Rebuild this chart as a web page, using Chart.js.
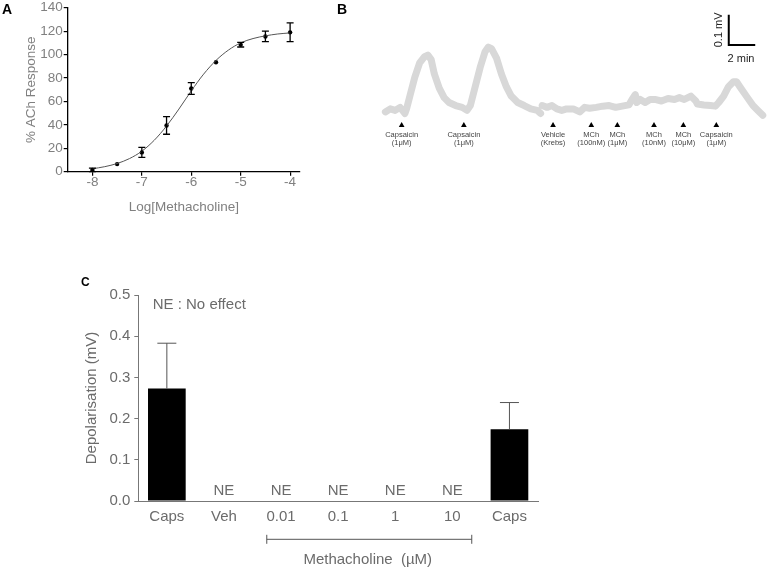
<!DOCTYPE html>
<html><head><meta charset="utf-8">
<script src="https://cdn.jsdelivr.net/npm/chart.js@4/dist/chart.umd.min.js"></script>
<style>
html,body{margin:0;padding:0;background:#fff;}
#wrap{position:relative;width:771px;height:569px;overflow:hidden;background:#fff;}
canvas{position:absolute;}
.lbl{position:absolute;font-weight:bold;color:#000;font-family:"Liberation Sans",Arial,sans-serif;line-height:1;}
</style></head>
<body><div id="wrap">
<canvas id="cA" width="310" height="225" style="left:0px;top:0px"></canvas>
<canvas id="cB" width="401" height="160" style="left:370px;top:0px"></canvas>
<canvas id="cC" width="490" height="299" style="left:60px;top:270px"></canvas>
<div class="lbl" style="left:2px;top:1.5px;font-size:14px">A</div>
<div class="lbl" style="left:337px;top:1.5px;font-size:14px">B</div>
<div class="lbl" style="left:81px;top:275.5px;font-size:12px">C</div>
</div>
<script>
// ---------- Panel A : concentration-response ----------
const doseLog = [-8, -7.5, -7, -6.5, -6, -5.5, -5, -4.5, -4];
const respMean = [1.5, 6.5, 16.5, 39.5, 71, 93.5, 108.5, 115.5, 119];
const respErr = [1.5, 0, 4.2, 7.5, 5, 0, 2, 4.5, 8];
const fitLog = [-8, -7.75, -7.5, -7.25, -7, -6.75, -6.5, -6.25, -6, -5.75, -5.5, -5.25, -5, -4.75, -4.5, -4.25, -4];
const fitResp = [2.5, 4.3, 7, 11.2, 17.5, 26.8, 39, 53.5, 69, 83.3, 95, 103.8, 110, 113.7, 116, 117.6, 118.5];
const xTicksA = [-8, -7, -6, -5, -4];

// ---------- Panel B : trace ----------
const traceMin = [0, 0.37, 0.74, 1.11, 1.48, 1.60, 1.85, 2.22, 2.59, 2.96, 3.21, 3.46, 3.70, 4.07, 4.44, 4.81, 5.31, 5.80, 6.17, 6.42,
  6.79, 7.16, 7.53, 7.78, 8.02, 8.40, 8.77, 9.14, 9.51, 10.0, 10.49, 10.99, 11.48, 11.73, 11.79,
  11.85, 12.22, 12.59, 12.96, 13.33, 13.70, 14.20, 14.69, 15.06, 15.43, 15.93, 16.42, 16.91, 17.41, 17.90, 18.40, 18.64, 18.89, 19.01,
  19.26, 19.63, 20.0, 20.37, 20.86, 21.36, 21.85, 22.22, 22.59, 23.09, 23.46, 23.58, 24.07, 24.57, 24.94, 25.19, 25.56, 25.93, 26.30,
  26.54, 26.79, 27.28, 27.78, 28.15, 28.52];
const traceMV = [-0.005, 0.005, 0, 0.010, -0.010, 0.005, 0.047, 0.109, 0.156, 0.177, 0.182, 0.167, 0.120, 0.073, 0.042, 0.026, 0.016, 0.010, 0, 0.016,
  0.078, 0.141, 0.193, 0.208, 0.203, 0.172, 0.120, 0.078, 0.047, 0.026, 0.016, 0.005, 0, -0.010, null,
  0.016, 0.010, 0.016, 0.005, 0, 0.005, 0.005, -0.005, 0.010, 0.007, 0.010, 0.014, 0.016, 0.010, 0.014, 0.018, 0.036, 0.052, 0.026,
  0.036, 0.026, 0.036, 0.036, 0.031, 0.039, 0.036, 0.042, 0.036, 0.047, 0.031, 0.021, 0.018, 0.016, 0.014, 0.026, 0.047, 0.078, 0.094,
  0.094, 0.078, 0.047, 0.016, 0, -0.016];
const markerMin = [1.23, 5.93, 12.67, 15.56, 17.53, 20.30, 22.52, 25.01];
const markerMV = -0.049;
const markerText = [["Capsaicin", "(1\u03bcM)"], ["Capsaicin", "(1\u03bcM)"], ["Vehicle", "(Krebs)"], ["MCh", "(100nM)"],
  ["MCh", "(1\u03bcM)"], ["MCh", "(10nM)"], ["MCh", "(10\u03bcM)"], ["Capsaicin", "(1\u03bcM)"]];
const barMV = 0.1, barMin = 2;

// ---------- Panel C : bars ----------
const catsC = ["Caps", "Veh", "0.01", "0.1", "1", "10", "Caps"];
const valC = [0.273, 0, 0, 0, 0, 0, 0.174];
const errC = [0.110, 0, 0, 0, 0, 0, 0.065];
const noteC = ["", "NE", "NE", "NE", "NE", "NE", ""];

const FONT = '"Liberation Sans", Arial, sans-serif';
Chart.defaults.font.family = FONT;
Chart.defaults.devicePixelRatio = 1;

// ----- Chart A -----
const errPluginA = {
  id: 'errA',
  afterDatasetsDraw(chart) {
    const {ctx, scales: {x, y}} = chart;
    ctx.save();
    ctx.strokeStyle = '#000';
    ctx.lineWidth = 1.3;
    doseLog.forEach((d, i) => {
      if (!respErr[i]) return;
      const px = x.getPixelForValue(d);
      const y1 = y.getPixelForValue(respMean[i] - respErr[i]);
      const y2 = y.getPixelForValue(respMean[i] + respErr[i]);
      ctx.beginPath();
      ctx.moveTo(px, y1); ctx.lineTo(px, y2);
      ctx.moveTo(px - 3.5, y1); ctx.lineTo(px + 3.5, y1);
      ctx.moveTo(px - 3.5, y2); ctx.lineTo(px + 3.5, y2);
      ctx.stroke();
    });
    ctx.restore();
  }
};
new Chart(document.getElementById('cA'), {
  type: 'scatter',
  data: {
    datasets: [
      { type: 'line', data: fitLog.map((v, i) => ({x: v, y: fitResp[i]})), borderColor: '#555', borderWidth: 1,
        pointRadius: 0, cubicInterpolationMode: 'monotone', fill: false },
      { type: 'scatter', data: doseLog.map((v, i) => ({x: v, y: respMean[i]})), backgroundColor: '#000', borderColor: '#000',
        pointRadius: 2.2, borderWidth: 0 }
    ]
  },
  options: {
    responsive: false, animation: false,
    layout: {padding: {left: 23.6, right: 10, top: 6.7, bottom: 9.6}},
    plugins: {legend: {display: false}, tooltip: {enabled: false}},
    scales: {
      x: {
        type: 'linear', min: -8.5, max: -3.8,
        afterBuildTicks: s => { s.ticks = xTicksA.map(v => ({value: v})); },
        afterFit: s => { s.height = 43.7; },
        grid: {display: true, drawOnChartArea: false, drawTicks: true, tickLength: 4, color: '#000', lineWidth: 1.2},
        border: {display: true, color: '#000', width: 1.3},
        ticks: {color: '#808080', font: {size: 13.5, lineHeight: 1}, padding: 0, maxRotation: 0},
        title: {display: true, text: 'Log[Methacholine]', color: '#808080', font: {size: 13.5}, padding: 0}
      },
      y: {
        min: 0, max: 140,
        ticks: {stepSize: 20, color: '#808080', font: {size: 13.5, lineHeight: 1}, padding: 1},
        afterFit: s => { s.width = 44.1; },
        grid: {display: true, drawOnChartArea: false, drawTicks: true, tickLength: 4, color: '#000', lineWidth: 1.2},
        border: {display: true, color: '#000', width: 1.3},
        title: {display: true, text: '% ACh Response', color: '#808080', font: {size: 13.5}, padding: 0}
      }
    }
  },
  plugins: [errPluginA]
});

// ----- Chart B -----
const tracePts = traceMin.map((t, i) => ({x: t, y: traceMV[i]}));
const pluginB = {
  id: 'annB',
  afterDatasetsDraw(chart) {
    const {ctx, scales: {x, y}} = chart;
    ctx.save();
    ctx.fillStyle = '#444';
    ctx.font = '7.5px ' + FONT;
    ctx.textAlign = 'center';
    ctx.textBaseline = 'middle';
    const my = y.getPixelForValue(markerMV);
    markerMin.forEach((t, i) => {
      const px = x.getPixelForValue(t);
      ctx.fillText(markerText[i][0], px, my + 9.5);
      ctx.fillText(markerText[i][1], px, my + 18);
    });
    // scale bar
    const t0 = 25.95, v0 = 0.215;
    const bx = x.getPixelForValue(t0), by = y.getPixelForValue(v0);
    const bx2 = x.getPixelForValue(t0 + barMin), by2 = y.getPixelForValue(v0 + barMV);
    ctx.strokeStyle = '#000';
    ctx.lineWidth = 2;
    ctx.beginPath();
    ctx.moveTo(bx, by2); ctx.lineTo(bx, by); ctx.lineTo(bx2, by);
    ctx.stroke();
    ctx.fillStyle = '#222';
    ctx.font = '11px ' + FONT;
    ctx.fillText('2 min', (bx + bx2) / 2 - 1, by + 14);
    ctx.translate(bx - 10, (by + by2) / 2);
    ctx.rotate(-Math.PI / 2);
    ctx.fillText(barMV + ' mV', 0, 0);
    ctx.restore();
  }
};
new Chart(document.getElementById('cB'), {
  type: 'line',
  data: {
    datasets: [
      { data: tracePts, borderColor: '#d8d8d8', borderWidth: 7, pointRadius: 0, spanGaps: false, tension: 0,
        borderJoinStyle: 'round', borderCapStyle: 'round' },
      { data: tracePts, borderColor: '#c2c2c2', borderWidth: 1.3, pointRadius: 0, spanGaps: false, tension: 0 },
      { type: 'scatter', data: markerMin.map(t => ({x: t, y: markerMV})), pointStyle: 'triangle', pointRadius: 3.3,
        backgroundColor: '#000', borderColor: '#000', borderWidth: 0 }
    ]
  },
  options: {
    responsive: false, animation: false,
    layout: {padding: 0},
    plugins: {legend: {display: false}, tooltip: {enabled: false}},
    scales: {
      x: {type: 'linear', display: false, min: -0.86, max: 28.84},
      y: {type: 'linear', display: false, min: -0.15, max: 0.35}
    }
  },
  plugins: [pluginB]
});

// ----- Chart C -----
const pluginC = {
  id: 'annC',
  afterDatasetsDraw(chart) {
    const {ctx, chartArea, scales: {x, y}} = chart;
    const meta = chart.getDatasetMeta(0);
    ctx.save();
    ctx.strokeStyle = '#555';
    ctx.lineWidth = 1;
    meta.data.forEach((bar, i) => {
      if (errC[i] > 0) {
        const yTop = y.getPixelForValue(valC[i] + errC[i]);
        ctx.beginPath();
        ctx.moveTo(bar.x, bar.y); ctx.lineTo(bar.x, yTop);
        ctx.moveTo(bar.x - 9.5, yTop); ctx.lineTo(bar.x + 9.5, yTop);
        ctx.stroke();
      }
    });
    ctx.fillStyle = '#6b6b6b';
    ctx.font = '15px ' + FONT;
    ctx.textAlign = 'center';
    ctx.textBaseline = 'middle';
    const y0 = y.getPixelForValue(0);
    noteC.forEach((t, i) => {
      if (t) ctx.fillText(t, x.getPixelForValue(i), y0 - 10.5);
    });
    ctx.textAlign = 'left';
    ctx.fillText('NE : No effect', chartArea.left + 14.4, chartArea.top + 10);
    // methacholine bracket
    const w = x.getPixelForValue(1) - x.getPixelForValue(0);
    const bl = x.getPixelForValue(2) - 0.25 * w, br = x.getPixelForValue(5) + 0.34 * w;
    const byy = chartArea.bottom + 38.3;
    ctx.beginPath();
    ctx.moveTo(bl, byy); ctx.lineTo(br, byy);
    ctx.moveTo(bl, byy - 4.5); ctx.lineTo(bl, byy + 4.5);
    ctx.moveTo(br, byy - 4.5); ctx.lineTo(br, byy + 4.5);
    ctx.stroke();
    ctx.textAlign = 'center';
    ctx.fillText('Methacholine  (\u00b5M)', (bl + br) / 2 - 1.5, byy + 21);
    ctx.restore();
  }
};
new Chart(document.getElementById('cC'), {
  type: 'bar',
  data: {
    labels: catsC,
    datasets: [{data: valC, backgroundColor: '#000', borderWidth: 0, categoryPercentage: 1, barPercentage: 0.66}]
  },
  options: {
    responsive: false, animation: false,
    layout: {padding: {left: 22.7, right: 12, top: 25, bottom: 0}},
    plugins: {legend: {display: false}, tooltip: {enabled: false}},
    scales: {
      x: {
        grid: {display: false, drawTicks: false},
        border: {display: true, color: '#777', width: 1},
        ticks: {color: '#6b6b6b', font: {size: 15, lineHeight: 1}, padding: 8},
        afterFit: s => { s.height = 68; }
      },
      y: {
        min: 0, max: 0.5,
        ticks: {stepSize: 0.1, callback: v => Number(v).toFixed(1), color: '#6b6b6b', font: {size: 15, lineHeight: 1}, padding: 4},
        grid: {display: true, drawOnChartArea: false, drawTicks: true, tickLength: 4, color: '#777'},
        border: {display: true, color: '#777', width: 1},
        title: {display: true, text: 'Depolarisation (mV)', color: '#6b6b6b', font: {size: 15}, padding: 0},
        afterFit: s => { s.width = 55.6; }
      }
    }
  },
  plugins: [pluginC]
});
</script>
</body></html>
